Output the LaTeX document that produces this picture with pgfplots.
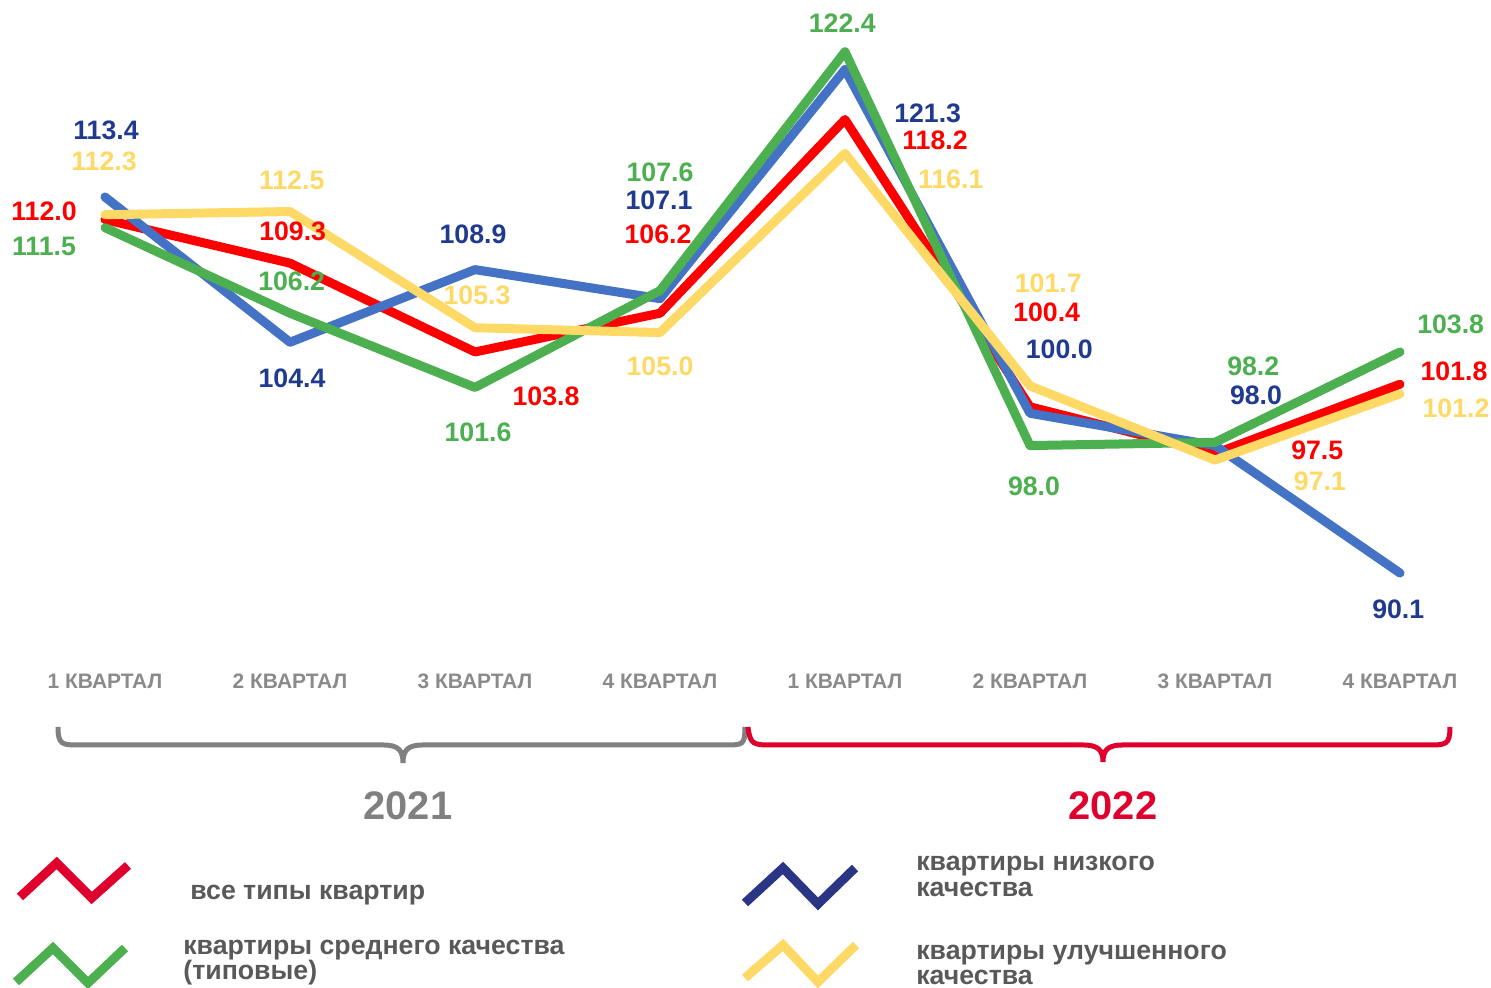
\documentclass[border=0pt]{standalone}
\usepackage{pgfplots}
\pgfplotsset{compat=1.18}
\usepackage{fontspec}
\setmainfont{Liberation Sans}
\definecolor{lred}{HTML}{FF0000}
\definecolor{lblue}{HTML}{4472C4}
\definecolor{lgreen}{HTML}{4CAF50}
\definecolor{lyellow}{HTML}{FFD966}
\definecolor{navy}{HTML}{1F3A8F}
\definecolor{crimson}{HTML}{E0002D}
\definecolor{legnavy}{HTML}{2B3586}
\definecolor{tickgray}{HTML}{8A8A8A}
\definecolor{yeargray}{HTML}{808080}
\definecolor{txtgray}{HTML}{595959}
\begin{document}
\begin{tikzpicture}
\begin{axis}[
  scale only axis, width=745.5bp, height=340.5bp,
  xmin=-0.567568, xmax=7.491892, ymin=83.4124, ymax=125.6057,
  axis line style={draw=none}, ytick=\empty,
  xtick={0,...,7},
  xticklabels={1 КВАРТАЛ, 2 КВАРТАЛ, 3 КВАРТАЛ, 4 КВАРТАЛ, 1 КВАРТАЛ, 2 КВАРТАЛ, 3 КВАРТАЛ, 4 КВАРТАЛ},
  major tick length=0pt,
  xticklabel style={anchor=center, inner sep=0pt, font=\fontsize{10.5}{12}\selectfont\bfseries, text=tickgray},
  clip=false,
  every axis plot/.append style={line width=4.5bp, line cap=round, line join=round, mark=none},
]
\addplot[color=lred] coordinates {(0,112.0) (1,109.3) (2,103.8) (3,106.2) (4,118.2) (5,100.4) (6,97.5) (7,101.8)};
\addplot[color=lblue] coordinates {(0,113.4) (1,104.4) (2,108.9) (3,107.1) (4,121.3) (5,100.0) (6,98.0) (7,90.1)};
\addplot[color=lgreen] coordinates {(0,111.5) (1,106.2) (2,101.6) (3,107.6) (4,122.4) (5,98.0) (6,98.2) (7,103.8)};
\addplot[color=lyellow] coordinates {(0,112.3) (1,112.5) (2,105.3) (3,105.0) (4,116.1) (5,101.7) (6,97.1) (7,101.2)};
\coordinate (TL) at (rel axis cs:0,1);
\end{axis}
\pgfresetboundingbox
\path[use as bounding box] (TL) rectangle ([xshift=745.5bp,yshift=-494bp]TL);
\begin{scope}[shift={(TL)}, x=0.5bp, y=-0.5bp]
% data labels
\begin{scope}[every node/.style={inner sep=0pt, anchor=center, font=\fontsize{13.4}{15}\selectfont\bfseries}]
\node[text=navy] at (106,130.7) {113.4};
\node[text=navy] at (292,378) {104.4};
\node[text=navy] at (473,234) {108.9};
\node[text=navy] at (659,200) {107.1};
\node[text=navy] at (927.7,113.3) {121.3};
\node[text=navy] at (1059.3,349.3) {100.0};
\node[text=navy] at (1256,395) {98.0};
\node[text=navy] at (1398.3,609.3) {90.1};
\node[text=lred] at (44,211.7) {112.0};
\node[text=lred] at (292.7,231.7) {109.3};
\node[text=lred] at (546,396) {103.8};
\node[text=lred] at (658,234) {106.2};
\node[text=lred] at (935,140) {118.2};
\node[text=lred] at (1046.7,312.7) {100.4};
\node[text=lred] at (1317.3,450.7) {97.5};
\node[text=lred] at (1454,371) {101.8};
\node[text=lgreen] at (44,246) {111.5};
\node[text=lgreen] at (291.7,281.7) {106.2};
\node[text=lgreen] at (478,432) {101.6};
\node[text=lgreen] at (660,172) {107.6};
\node[text=lgreen] at (842.3,23.3) {122.4};
\node[text=lgreen] at (1034,486.7) {98.0};
\node[text=lgreen] at (1253.3,366) {98.2};
\node[text=lgreen] at (1450.7,324) {103.8};
\node[text=lyellow] at (104,161.7) {112.3};
\node[text=lyellow] at (291.7,180) {112.5};
\node[text=lyellow] at (477,295) {105.3};
\node[text=lyellow] at (660,366) {105.0};
\node[text=lyellow] at (950.7,179) {116.1};
\node[text=lyellow] at (1048.3,283.3) {101.7};
\node[text=lyellow] at (1320,481) {97.1};
\node[text=lyellow] at (1456,408.7) {101.2};
\end{scope}
% braces
\draw[yeargray, line width=2.5bp] (58,727) .. controls (58,745) and (62,745) .. (80,745) -- (383,745) .. controls (398,745) and (403,750) .. (403,763) .. controls (403,750) and (408,745) .. (423,745) -- (725,745) .. controls (743,745) and (745,745) .. (745,727);
\draw[crimson, line width=2.5bp] (748,727) .. controls (750,745) and (754,745) .. (772,745) -- (1083,745) .. controls (1098,745) and (1103,750) .. (1103,762) .. controls (1103,750) and (1108,745) .. (1123,745) -- (1428,745) .. controls (1446,745) and (1450,745) .. (1450,727);
\node[inner sep=0pt, text=yeargray, font=\fontsize{20}{22}\selectfont\bfseries] at (408,806) {2021};
\node[inner sep=0pt, text=crimson, font=\fontsize{20}{22}\selectfont\bfseries] at (1113,806) {2022};
% legend
\begin{scope}[line width=4.5bp, miter limit=10]
\draw[crimson] (20,897) -- (56.7,863) -- (91.7,898) -- (128,865.5);
\draw[lgreen] (16,982) -- (53,948) -- (88,983) -- (125,948);
\draw[legnavy] (745,903) -- (783,868) -- (818,904) -- (855,868);
\draw[lyellow] (745,978) -- (783,945) -- (818,982) -- (856,945);
\end{scope}
\begin{scope}[every node/.style={inner sep=0pt, anchor=base west, text=txtgray, font=\fontsize{13.4}{15}\selectfont\bfseries}]
\node at (190,900) {все типы квартир};
\node at (183,955) {квартиры среднего качества};
\node at (183,980) {(типовые)};
\node at (916,871) {квартиры низкого};
\node at (916,897) {качества};
\node at (916,960) {квартиры улучшенного};
\node at (916,985) {качества};
\end{scope}
\end{scope}
\end{tikzpicture}
\end{document}
